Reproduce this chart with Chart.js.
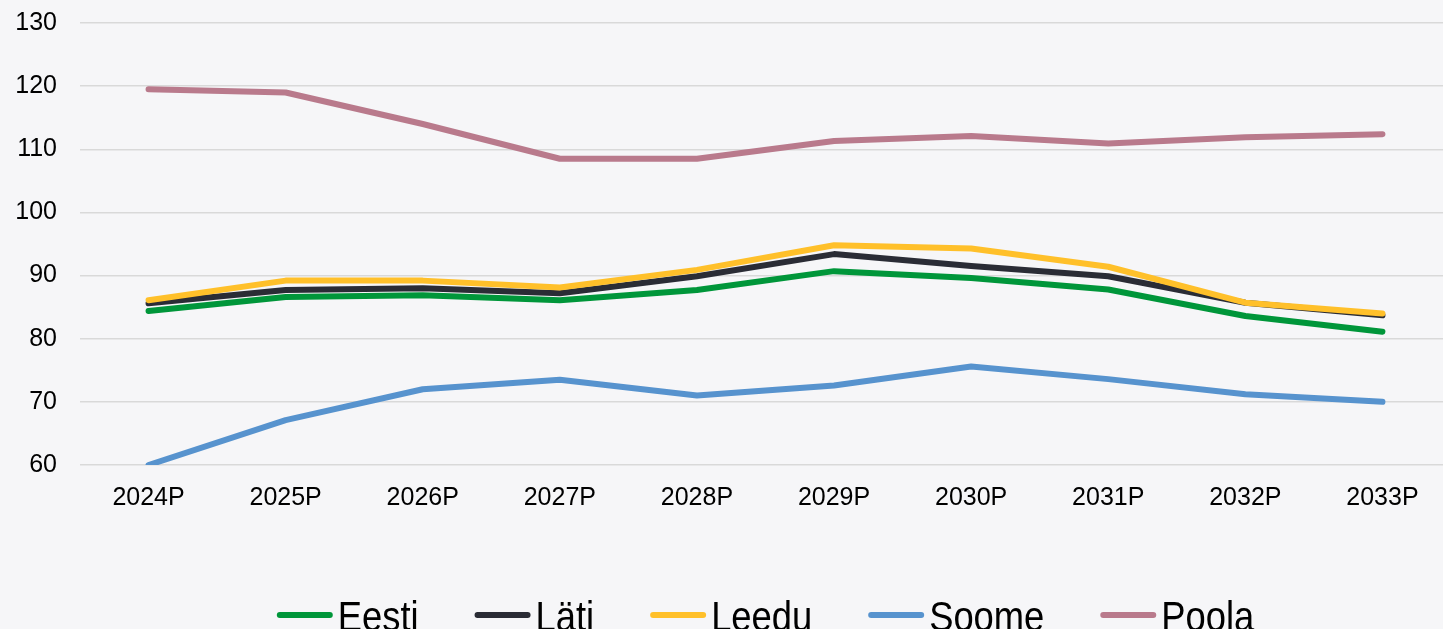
<!DOCTYPE html>
<html>
<head>
<meta charset="utf-8">
<script src="https://cdn.jsdelivr.net/npm/chart.js@4"></script>
<style>
  html, body { margin: 0; padding: 0; background: #f6f6f8; overflow: hidden; }
  #wrap { width: 1451px; height: 629px; position: relative; }
</style>
</head>
<body>
<div id="wrap"><canvas id="chart"></canvas></div>
<script>
const years = ['2024P', '2025P', '2026P', '2027P', '2028P', '2029P', '2030P', '2031P', '2032P', '2033P'];
const eesti = [84.4, 86.6, 86.9, 86.1, 87.7, 90.7, 89.6, 87.8, 83.6, 81.1];
const lati  = [85.6, 87.7, 88.0, 87.2, 89.9, 93.4, 91.5, 89.9, 85.7, 83.7];
const leedu = [86.1, 89.2, 89.2, 88.1, 90.9, 94.8, 94.3, 91.4, 85.7, 84.0];
const soome = [60.0, 67.1, 72.0, 73.5, 71.0, 72.6, 75.6, 73.6, 71.2, 70.0];
const poola = [119.5, 119.0, 114.0, 108.5, 108.5, 111.3, 112.1, 110.9, 111.9, 112.4];

const seriesNames = ['Eesti', 'Läti', 'Leedu', 'Soome', 'Poola'];
const seriesData = [eesti, lati, leedu, soome, poola];
const seriesColors = ['#00963a', '#2a2c35', '#ffc02a', '#5793ce', '#b97a8c'];

const bgPlugin = {
    id: 'bg',
    beforeDraw(chart) {
        const ctx = chart.ctx;
        ctx.save();
        ctx.fillStyle = '#f6f6f8';
        ctx.fillRect(0, 0, chart.width, chart.height);
        ctx.restore();
    }
};

// legend drawn by hand: narrow tall text right next to the line sample
const legendPlugin = {
    id: 'bottomLegend',
    afterDraw(chart) {
        const ctx = chart.ctx;
        const squeeze = 0.865;
        const lineLen = 56, gap = 5, spacing = 56, yLine = 615, yText = 631;
        ctx.save();
        ctx.font = '42px "Liberation Sans", Arial, sans-serif';
        const items = chart.data.datasets.map(ds => ({
            label: ds.label,
            color: ds.borderColor,
            w: ctx.measureText(ds.label).width * squeeze
        }));
        let total = 0;
        items.forEach((it, i) => { total += lineLen + gap + it.w + (i < items.length - 1 ? spacing : 0); });
        const area = chart.chartArea;
        let x = (area.left + area.right) / 2 - total / 2;
        items.forEach(it => {
            ctx.strokeStyle = it.color;
            ctx.lineWidth = 6;
            ctx.lineCap = 'round';
            ctx.beginPath();
            ctx.moveTo(x + 3, yLine);
            ctx.lineTo(x + lineLen - 3, yLine);
            ctx.stroke();
            x += lineLen + gap;
            ctx.save();
            ctx.translate(x, yText);
            ctx.scale(squeeze, 1);
            ctx.fillStyle = '#000';
            ctx.textBaseline = 'alphabetic';
            ctx.fillText(it.label, 0, 0);
            ctx.restore();
            x += it.w + spacing;
        });
        ctx.restore();
    }
};

const datasets = seriesNames.map((name, i) => ({
    label: name,
    data: seriesData[i],
    borderColor: seriesColors[i],
    backgroundColor: seriesColors[i],
    borderWidth: 6,
    borderCapStyle: 'round',
    borderJoinStyle: 'round',
    pointRadius: 0,
    tension: 0,
    fill: false,
    order: seriesNames.length - i
}));

new Chart(document.getElementById('chart'), {
    type: 'line',
    data: { labels: years, datasets: datasets },
    options: {
        responsive: true,
        maintainAspectRatio: false,
        animation: false,
        events: [],
        layout: { padding: { top: 23, right: 0, bottom: 0, left: 0 } },
        plugins: {
            legend: { display: false },
            tooltip: { enabled: false }
        },
        scales: {
            x: {
                offset: true,
                grid: { display: false, drawTicks: false },
                border: { display: false },
                ticks: {
                    color: '#000',
                    padding: 18,
                    maxRotation: 0,
                    font: { family: '"Liberation Sans", Arial, sans-serif', size: 25 }
                },
                afterFit(scale) { scale.height = 164; }
            },
            y: {
                min: 60,
                max: 130,
                ticks: {
                    stepSize: 10,
                    color: '#000',
                    padding: 23,
                    font: { family: '"Liberation Sans", Arial, sans-serif', size: 25 }
                },
                grid: { color: '#d9d9d9', lineWidth: 1.5, drawTicks: false },
                border: { display: false },
                afterFit(scale) {
                    scale.width = 80;
                    scale.paddingTop = 0;
                    scale.paddingBottom = 0;
                }
            }
        }
    },
    plugins: [bgPlugin, legendPlugin]
});
</script>
</body>
</html>
